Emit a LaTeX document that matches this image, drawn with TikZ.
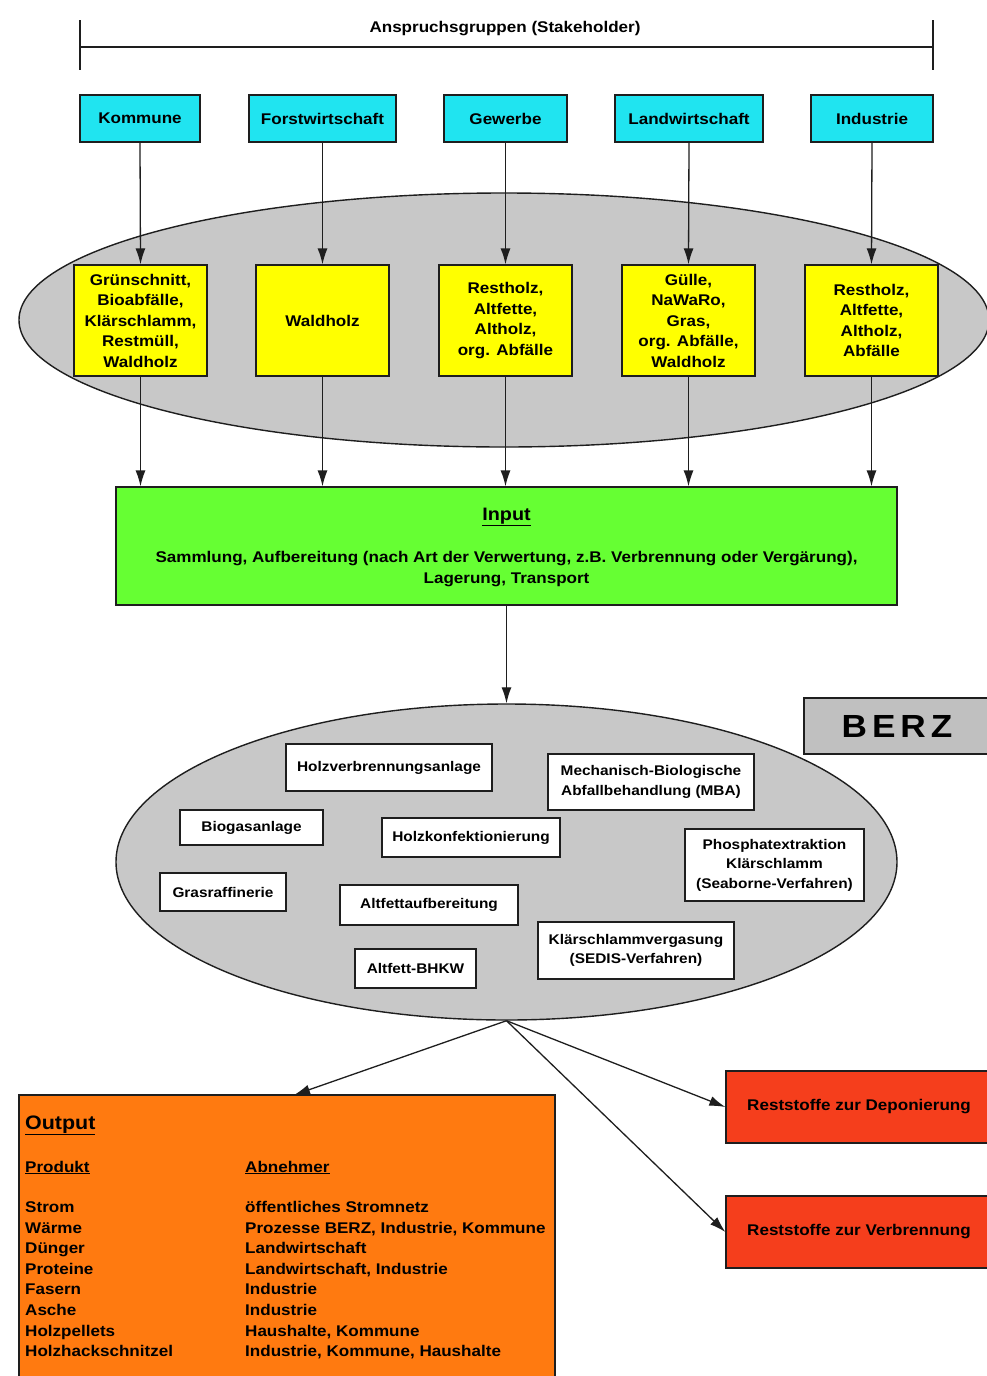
\documentclass[tikz,border=0pt]{standalone}
\usepackage{fontspec}
\setmainfont{Liberation Sans}[FakeStretch=1.1]
\usetikzlibrary{shapes.geometric,arrows.meta}
\newcommand\fs[2]{\fontsize{#1}{#2}\selectfont}
\definecolor{cyanc}{RGB}{32,228,240}
\definecolor{yelc}{RGB}{255,255,0}
\definecolor{grnc}{RGB}{102,255,51}
\definecolor{orgc}{RGB}{255,122,16}
\definecolor{redc}{RGB}{245,62,28}
\definecolor{ellc}{RGB}{200,200,200}
\definecolor{berzc}{RGB}{192,192,192}
\definecolor{linec}{RGB}{30,30,30}
\tikzset{
  conn/.style={draw=linec, line width=1.3pt, -{Latex[length=16pt,width=10pt]}},
  sbox/.style={draw=linec, line width=1.3pt, fill=cyanc, minimum height=47pt, inner sep=0pt, font=\fs{15.5}{18}\bfseries},
  ybox/.style={draw=linec, line width=1.3pt, fill=yelc, minimum width=133pt, minimum height=111pt, inner sep=0pt, align=center, font=\fs{15.5}{20.5}\bfseries},
  wbox/.style={draw=linec, line width=1.3pt, fill=white, inner sep=0pt, align=center, font=\fs{14}{19.5}\bfseries},
  rbox/.style={draw=linec, line width=1.3pt, fill=redc, minimum width=264pt, minimum height=72pt, inner sep=0pt, font=\fs{15.5}{18}\bfseries},
  ell/.style={ellipse, draw=linec, line width=1.4pt, fill=ellc, inner sep=0pt},
  otext/.style={anchor=base west, inner sep=0pt, font=\fs{15.5}{18}\bfseries},
}
\begin{document}
\begin{tikzpicture}[x=1pt,y=-1pt]
\useasboundingbox (0,0) rectangle (986,1376);
\fill[white] (0,0) rectangle (986,1376);

% stakeholder bracket
\coordinate (bl) at (80,47);
\coordinate (br) at (933,47);
\coordinate (blt) at (80,20);
\coordinate (blb) at (80,70);
\coordinate (brt) at (933,20);
\coordinate (brb) at (933,70);
\draw[linec, line width=2pt] (bl) -- (br);
\draw[linec, line width=1.5pt] (blt) -- (blb);
\draw[linec, line width=1.5pt] (brt) -- (brb);
\node[font=\fs{15.5}{18}\bfseries, inner sep=0pt] (title) at (505,28.5) {Anspruchsgruppen (Stakeholder)};

% stakeholders
\node[sbox, minimum width=120pt] (kom) at (140,118.5) {Kommune};
\node[sbox, minimum width=147pt] (forst) at (322.5,118.5) {Forstwirtschaft};
\node[sbox, minimum width=123pt] (gew) at (505.5,118.5) {Gewerbe};
\node[sbox, minimum width=148pt] (land) at (689,118.5) {Landwirtschaft};
\node[sbox, minimum width=122pt] (ind) at (872,118.5) {Industrie};

% ellipse 1
\node[ell, minimum width=970pt, minimum height=254pt] (e1) at (504,320) {};

% yellow boxes
\node[ybox] (y1) at (140.5,320.5) {Grünschnitt,\\Bioabfälle,\\Klärschlamm,\\Restmüll,\\Waldholz};
\node[ybox] (y2) at (322.5,320.5) {Waldholz};
\node[ybox] (y3) at (505.5,320.5) {Restholz,\\Altfette,\\Altholz,\\org. Abfälle};
\node[ybox] (y4) at (688.5,320.5) {Gülle,\\NaWaRo,\\Gras,\\org. Abfälle,\\Waldholz};
\node[ybox] (y5) at (871.5,320.5) {Restholz,\\Altfette,\\Altholz,\\Abfälle};

\draw[conn] (kom.south) -- (y1.north);
\draw[conn] (forst.south) -- (y2.north);
\draw[conn] (gew.south) -- (y3.north);
\draw[conn] (land.south) -- (y4.north);
\draw[conn] (ind.south) -- (y5.north);

% green input box
\node[draw=linec, line width=1.3pt, fill=grnc, minimum width=781pt, minimum height=118pt, inner sep=0pt] (inp) at (506.5,546) {};
\node[font=\fs{18}{20}\bfseries, inner sep=0pt, anchor=base] (inpt) at (506.5,520.5) {\underline{Input}};
\node[font=\fs{15.5}{21}\bfseries, inner sep=0pt, align=center] (inpx) at (506.5,569) {Sammlung, Aufbereitung (nach Art der Verwertung, z.B. Verbrennung oder Vergärung),\\Lagerung, Transport};

\draw[conn] (y1.south) -- (y1.south |- inp.north);
\draw[conn] (y2.south) -- (y2.south |- inp.north);
\draw[conn] (y3.south) -- (y3.south |- inp.north);
\draw[conn] (y4.south) -- (y4.south |- inp.north);
\draw[conn] (y5.south) -- (y5.south |- inp.north);

% BERZ
\node[draw=linec, line width=1.3pt, fill=berzc, minimum width=186pt, minimum height=56pt, inner sep=0pt, font=\fs{32}{34}\bfseries] (berz) at (897,726) {B\hspace{5pt}E\hspace{5pt}R\hspace{5pt}Z};

% ellipse 2
\node[ell, minimum width=781pt, minimum height=316pt] (e2) at (506.5,862) {};
\draw[conn] (inp.south) -- (e2.north);

% white boxes
\node[wbox, minimum width=206pt, minimum height=47pt] (hv) at (389,767.5) {Holzverbrennungsanlage};
\node[wbox, minimum width=206pt, minimum height=56pt] (mba) at (651,782) {Mechanisch-Biologische\\Abfallbehandlung (MBA)};
\node[wbox, minimum width=143pt, minimum height=35pt] (bio) at (251.5,827.5) {Biogasanlage};
\node[wbox, minimum width=178pt, minimum height=39pt] (hk) at (471,837.5) {Holzkonfektionierung};
\node[wbox, minimum width=179pt, minimum height=72pt] (phos) at (774.5,865) {Phosphatextraktion\\Klärschlamm\\(Seaborne-Verfahren)};
\node[wbox, minimum width=126pt, minimum height=38pt] (gras) at (223,892) {Grasraffinerie};
\node[wbox, minimum width=178pt, minimum height=40pt] (alt) at (429,905) {Altfettaufbereitung};
\node[wbox, minimum width=196pt, minimum height=57pt] (ksv) at (636,950.5) {Klärschlammvergasung\\(SEDIS-Verfahren)};
\node[wbox, minimum width=121pt, minimum height=39pt] (bhkw) at (415.5,968.5) {Altfett-BHKW};

% output
\node[draw=linec, line width=1.3pt, fill=orgc, minimum width=536pt, minimum height=285pt, inner sep=0pt] (out) at (287,1237.5) {};
\node[otext, font=\fs{19.5}{22}\bfseries] (outt) at (25,1129) {\underline{Output}};
\node[otext] (ph) at (25,1172) {\underline{Produkt}};
\node[otext] (ah) at (245,1172) {\underline{Abnehmer}};
\node[otext] (p1) at (25,1212.5) {Strom};
\node[otext] (p2) at (25,1233.1) {Wärme};
\node[otext] (p3) at (25,1253.7) {Dünger};
\node[otext] (p4) at (25,1274.3) {Proteine};
\node[otext] (p5) at (25,1294.9) {Fasern};
\node[otext] (p6) at (25,1315.5) {Asche};
\node[otext] (p7) at (25,1336.1) {Holzpellets};
\node[otext] (p8) at (25,1356.7) {Holzhackschnitzel};
\node[otext] (a1) at (245,1212.5) {öffentliches Stromnetz};
\node[otext] (a2) at (245,1233.1) {Prozesse BERZ, Industrie, Kommune};
\node[otext] (a3) at (245,1253.7) {Landwirtschaft};
\node[otext] (a4) at (245,1274.3) {Landwirtschaft, Industrie};
\node[otext] (a5) at (245,1294.9) {Industrie};
\node[otext] (a6) at (245,1315.5) {Industrie};
\node[otext] (a7) at (245,1336.1) {Haushalte, Kommune};
\node[otext] (a8) at (245,1356.7) {Industrie, Kommune, Haushalte};

% residue boxes
\node[rbox] (r1) at (858,1107) {\hspace{2pt}Reststoffe zur Deponierung};
\node[rbox] (r2) at (858,1232) {\hspace{2pt}Reststoffe zur Verbrennung};

\coordinate (outtip) at (294,1095);
\draw[conn] (e2.south) -- (outtip);
\draw[conn] (e2.south) -- (r1.west);
\draw[conn] (e2.south) -- (r2.west);
\end{tikzpicture}
\end{document}
